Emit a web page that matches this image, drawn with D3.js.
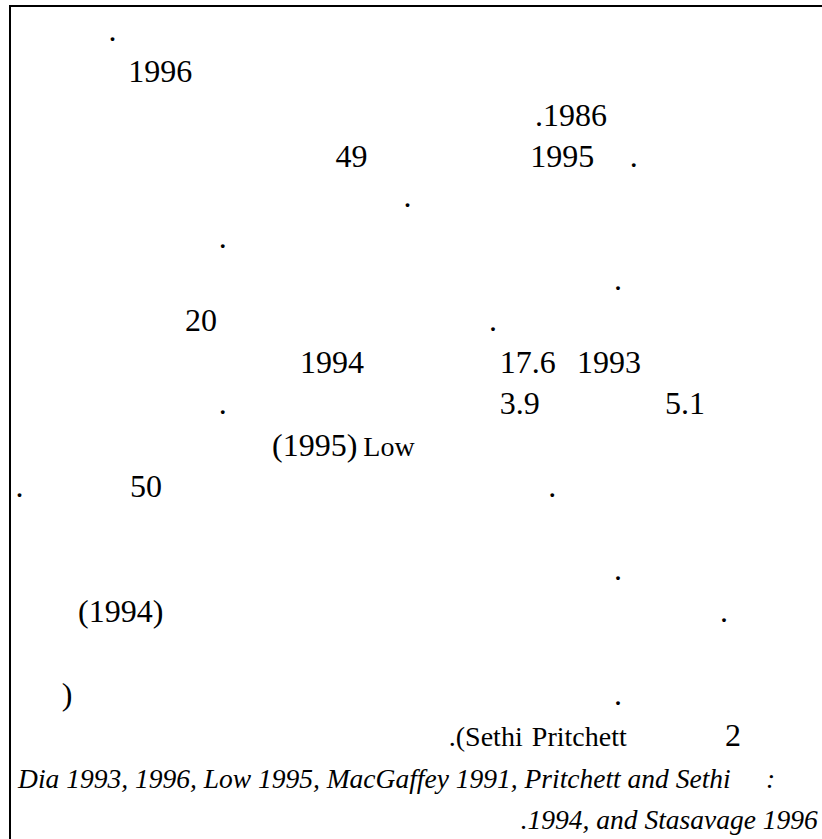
<!DOCTYPE html>
<meta charset="utf-8">
<head>
  <title>Page text</title>
</head>
<style>
body { margin: 0; background: #fff; }
svg { display: block; }
.frame { fill: none; stroke: #000; stroke-width: 2px; }
.tok { font-family: "Liberation Serif", "Times New Roman", serif; fill: #000; }
</style>
<body>
  <svg width="822" height="839"></svg>
  <script src="https://cdnjs.cloudflare.com/ajax/libs/d3/7.8.5/d3.min.js"></script>
  <script>
// line index of each token (0 = first line of the page)
var lines = [0, 1, 2.05, 3.05, 3.05, 3.05, 4, 5, 6, 7, 7, 8, 8, 8, 9, 9, 9, 10, 10, 11, 11, 11, 13, 14, 14, 16, 16, 17, 17, 17, 18, 18, 19];
// horizontal place of each token, percent of page width
var cols  = [13.2, 15.6, 65.1, 40.8, 64.5, 76.6, 49.1, 26.6, 74.7, 22.5, 59.5, 36.5, 60.8, 70.2, 26.6, 60.8, 80.9, 33.1, 44.2, 1.9, 15.8, 66.7, 74.7, 9.5, 87.6, 7.5, 74.7, 54.6, 64.7, 88.2, 2.2, 93.2, 99.5];
// the visible text (only digits, Latin words and punctuation survive)
var texts = [".", "1996", ".1986", "49", "1995", ".", ".", ".", ".", "20", ".", "1994", "17.6", "1993", ".", "3.9", "5.1",
  "(1995)", "Low", ".", "50", ".", ".", "(1994)", ".", ")", ".", ".(Sethi", "Pritchett", "2",
  "Dia 1993, 1996, Low 1995, MacGaffey 1991, Pritchett and Sethi", ":", ".1994, and Stasavage 1996"];
// kind: n = numbers/punct, w = latin word, i = italic reference
var kinds = ["n", "n", "n", "n", "n", "n", "n", "n", "n", "n", "n", "n", "n", "n", "n", "n", "n",
  "n", "w", "n", "n", "n", "n", "n", "n", "n", "n", "w", "w", "n", "i", "i", "i"];

var tokens = texts.map(function(t, k) {
  return {text: t, line: lines[k], col: cols[k], kind: kinds[k]};
});

var svg = d3.select('svg');
var W = 822, H = 839;

var y = d3.scaleLinear().domain([0, 19]).range([40.5, 829]);
var x = d3.scaleLinear().domain([0, 100]).range([0, W]);
var size = {n: 32, w: 28, i: 27.5};

// frame: left and top rule
svg.append('path')
  .attr('class', 'frame')
  .attr('d', d3.line()([[10, H], [10, 6], [W, 6]]));

svg.append('g')
  .selectAll('text.tok')
  .data(tokens)
  .enter()
  .append('text')
  .classed('tok', true)
  .attr('x', function(d) { return x(d.col); })
  .attr('y', function(d) { return y(d.line); })
  .attr('text-anchor', function(d) { return d.col > 99 ? 'end' : 'start'; })
  .style('font-size', function(d) { return size[d.kind] + 'px'; })
  .style('font-style', function(d) { return d.kind == 'i' ? 'italic' : 'normal'; })
  .text(function(d) { return d.text; });
  </script>
</body>
</html>
